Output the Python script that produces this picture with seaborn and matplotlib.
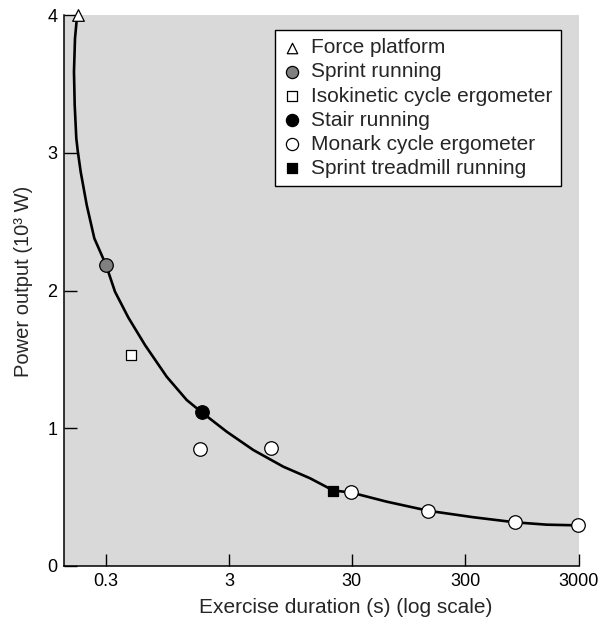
import numpy as np
import pandas as pd
import matplotlib
matplotlib.use("Agg")
import matplotlib.pyplot as plt
import seaborn as sns

# ---------------- data ----------------
force_x = [0.177]
force_y = [4.0]
sprint_x = [0.30]
sprint_y = [2.185]
isokinetic_x = [0.48]
isokinetic_y = [1.534]
stair_x = [1.80]
stair_y = [1.118]
monark_x = [1.75, 6.6, 29.6, 142, 828, 2950]
monark_y = [0.849, 0.859, 0.537, 0.401, 0.317, 0.295]
treadmill_x = [21.3]
treadmill_y = [0.544]

curve_x = [0.1766, 0.1733, 0.1679, 0.1647, 0.1669, 0.1720, 0.1766, 0.1867,
           0.2090, 0.2410, 0.300, 0.3551, 0.4553, 0.6226, 0.9346, 1.359,
           1.799, 2.873, 4.737, 8.326, 13.75, 21.31, 29.6, 61.2, 142.1,
           353.5, 828.2, 1565, 2952]
curve_y = [4.0, 3.964, 3.831, 3.588, 3.347, 3.105, 3.015, 2.862,
           2.621, 2.379, 2.185, 1.991, 1.804, 1.604, 1.374, 1.205,
           1.116, 0.975, 0.842, 0.721, 0.637, 0.548, 0.534, 0.467, 0.401,
           0.354, 0.317, 0.300, 0.295]

x_ticks = [0.3, 3, 30, 300, 3000]
x_tick_labels = ["0.3", "3", "30", "300", "3000"]
y_ticks = [0, 1, 2, 3, 4]
y_tick_labels = ["0", "1", "2", "3", "4"]

series_names = ["Force platform", "Sprint running", "Isokinetic cycle ergometer",
                "Stair running", "Monark cycle ergometer", "Sprint treadmill running"]

# ---------------- style ----------------
sns.set_theme(style="ticks")
plt.rcParams['font.family'] = ['Liberation Sans', 'DejaVu Sans']
plt.rcParams['font.size'] = 13

# hand-drawn log axis: decades are not exactly equal in the original
_knot_log = np.array([-3.0, np.log10(0.3), np.log10(3), np.log10(30),
                      np.log10(300), np.log10(3000), 6.0])
_knot_pos = np.array([-198.7, 106.0, 229.0, 351.5, 465.2, 578.8, 865.4])


def fwd(x):
    x = np.asarray(x, dtype=float)
    with np.errstate(divide='ignore', invalid='ignore'):
        lx = np.log10(np.clip(x, 1e-3, None))
    return np.interp(lx, _knot_log, _knot_pos)


def inv(u):
    u = np.asarray(u, dtype=float)
    return 10 ** np.interp(u, _knot_pos, _knot_log)


fig = plt.figure(figsize=(6.12, 6.17), dpi=100)
ax = fig.add_axes([64.3 / 612, 1 - 566 / 617, (578.8 - 64.3) / 612, (566 - 15) / 617])
ax.set_facecolor('#d9d9d9')
ax.set_xscale('function', functions=(fwd, inv))
ax.set_xlim(0.1374, 3000)
ax.set_ylim(0, 4)

curve_df = pd.DataFrame({"x": curve_x, "y": curve_y})
sns.lineplot(data=curve_df, x="x", y="y", sort=False, estimator=None,
             color="black", linewidth=1.9, ax=ax, zorder=2)

series = [
    (force_x, force_y, "^", "white", 70),
    (sprint_x, sprint_y, "o", "#808080", 95),
    (isokinetic_x, isokinetic_y, "s", "white", 62),
    (stair_x, stair_y, "o", "black", 95),
    (monark_x, monark_y, "o", "white", 95),
    (treadmill_x, treadmill_y, "s", "black", 62),
]
handles = []
for name, (xs, ys, mk, fc, s) in zip(series_names, series):
    df = pd.DataFrame({"x": xs, "y": ys})
    sns.scatterplot(data=df, x="x", y="y", marker=mk, color=fc, edgecolor="black",
                    linewidth=0.9, s=s, ax=ax, zorder=3, clip_on=False, label=name)
    handles.append(ax.collections[-1])

leg = ax.legend(handles, series_names, loc='upper left',
                bbox_to_anchor=(0.4095, 0.9728), borderaxespad=0,
                frameon=True, fancybox=False, framealpha=1, edgecolor='black',
                facecolor='white', fontsize=15, handlelength=0.84,
                handletextpad=0.5, labelspacing=0.245, borderpad=0.4,
                markerscale=0.9)
leg.get_frame().set_linewidth(1.0)

ax.set_xticks(x_ticks)
ax.set_xticklabels(x_tick_labels)
ax.set_xticks([], minor=True)
ax.set_yticks(y_ticks)
ax.set_yticklabels(y_tick_labels)

ax.tick_params(axis='x', direction='in', length=8.4, width=1.0, pad=5,
               labelsize=13, colors='black')
ax.tick_params(axis='y', direction='in', length=9.4, width=1.0, pad=5,
               labelsize=13, colors='black')

for side in ['top', 'right']:
    ax.spines[side].set_visible(False)
for side in ['left', 'bottom']:
    ax.spines[side].set_linewidth(1.1)
    ax.spines[side].set_color('black')

ax.set_xlabel("Exercise duration (s) (log scale)", fontsize=15, labelpad=5.5)
ax.xaxis.label.set_x(0.547)
ax.set_ylabel("Power output (10³ W)", fontsize=14.5, labelpad=10)
ax.yaxis.label.set_y(0.517)

fig.savefig("out.png", dpi=100)
